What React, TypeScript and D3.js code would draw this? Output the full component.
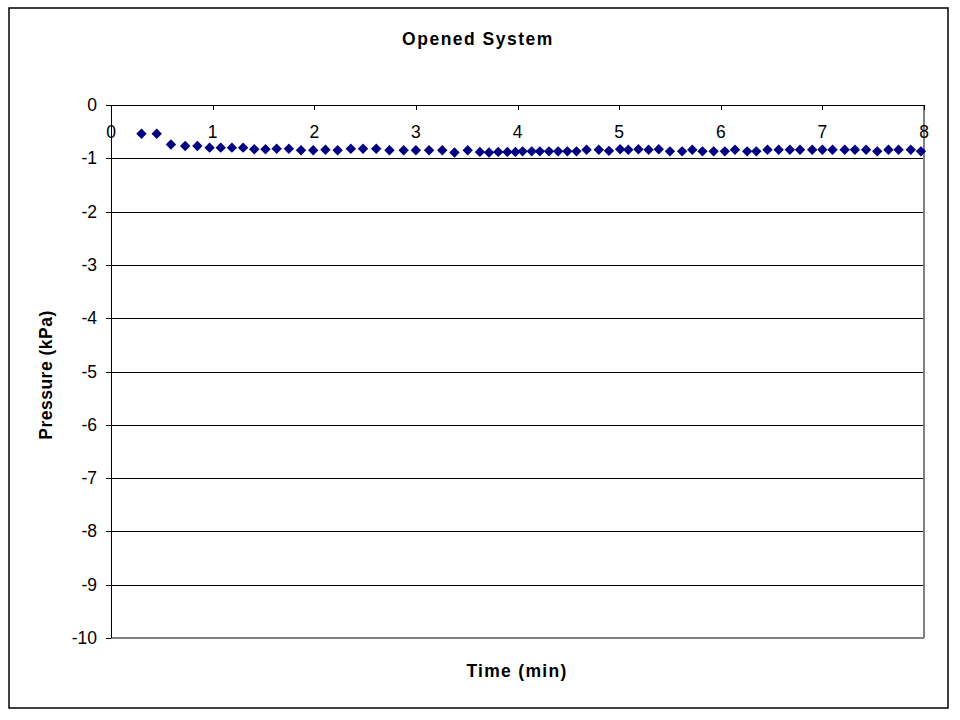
import React from "react";
import * as d3 from "d3";

const times = [
  0.30, 0.45, 0.59, 0.73, 0.85, 0.97, 1.08, 1.19, 1.30, 1.41, 1.52, 1.63, 1.75, 1.87, 1.99,
  2.11, 2.23, 2.36, 2.48, 2.61, 2.74, 2.88, 3.00, 3.13, 3.26, 3.38, 3.51, 3.63, 3.72, 3.81,
  3.90, 3.98, 4.05, 4.14, 4.22, 4.31, 4.40, 4.49, 4.58, 4.68, 4.80, 4.90, 5.01, 5.09, 5.19,
  5.29, 5.39, 5.50, 5.62, 5.72, 5.82, 5.93, 6.04, 6.14, 6.26, 6.35, 6.46, 6.57, 6.68, 6.78,
  6.90, 7.00, 7.10, 7.22, 7.32, 7.43, 7.54, 7.65, 7.75, 7.87, 7.97,
];
const pressures = [
  -0.54, -0.54, -0.74, -0.77, -0.77, -0.80, -0.80, -0.80, -0.80, -0.83, -0.83, -0.82, -0.82, -0.85, -0.85,
  -0.84, -0.85, -0.82, -0.82, -0.82, -0.85, -0.85, -0.85, -0.85, -0.85, -0.89, -0.85, -0.88, -0.89, -0.88,
  -0.88, -0.88, -0.87, -0.87, -0.87, -0.87, -0.87, -0.87, -0.87, -0.84, -0.84, -0.86, -0.83, -0.84, -0.83,
  -0.84, -0.83, -0.87, -0.87, -0.84, -0.87, -0.87, -0.87, -0.84, -0.87, -0.87, -0.84, -0.84, -0.84, -0.84,
  -0.84, -0.84, -0.84, -0.84, -0.84, -0.84, -0.87, -0.84, -0.84, -0.84, -0.87,
];
const xTicks = [0, 1, 2, 3, 4, 5, 6, 7, 8];
const yTicks = [0, -1, -2, -3, -4, -5, -6, -7, -8, -9, -10];

const title = "Opened System";
const xTitle = "Time (min)";
const yTitle = "Pressure (kPa)";

export default function App() {
  const W = 960, H = 720;
  const left = 111, right = 924, top = 105, bottom = 638;
  const x = d3.scaleLinear().domain([0, 8]).range([left, right]);
  const y = d3.scaleLinear().domain([-10, 0]).range([bottom, top]);
  const font = "'Liberation Sans', Arial, sans-serif";
  const r = 5.2;
  const diamond = `M0,${-r}L${r},0L0,${r}L${-r},0Z`;
  const data = times.map((t, i) => ({ t, p: pressures[i] }));

  return (
    <div style={{ position: "fixed", left: 0, top: 0, width: W, height: H, background: "#fff" }}>
      <svg width={W} height={H} style={{ display: "block" }}>
        <rect x={0} y={0} width={W} height={H} fill="#fff" />
        <rect x={9} y={8} width={939} height={700} fill="none" stroke="#000" strokeWidth={1.5} />
        <text x={478} y={45} textAnchor="middle" fontFamily={font} fontWeight="bold" fontSize={17.5} letterSpacing={1.5}>
          {title}
        </text>
        {yTicks.filter((v) => v !== 0 && v !== -10).map((v) => (
          <line key={"g" + v} x1={left} x2={right} y1={Math.round(y(v)) + 0.5} y2={Math.round(y(v)) + 0.5} stroke="#000" strokeWidth={1} />
        ))}
        <line x1={right} x2={right} y1={top} y2={bottom} stroke="#808080" strokeWidth={2} />
        <line x1={left} x2={right} y1={bottom} y2={bottom} stroke="#808080" strokeWidth={2} />
        <line x1={left + 0.5} x2={left + 0.5} y1={top} y2={bottom} stroke="#000" strokeWidth={1} />
        {yTicks.map((v) => (
          <g key={"y" + v}>
            <line x1={left - 5} x2={left} y1={Math.round(y(v)) + 0.5} y2={Math.round(y(v)) + 0.5} stroke="#000" strokeWidth={1} />
            <text x={97} y={y(v) + 6} textAnchor="end" fontFamily={font} fontSize={17.5}>
              {v}
            </text>
          </g>
        ))}
        <line x1={left} x2={right} y1={Math.round(y(0)) + 0.5} y2={Math.round(y(0)) + 0.5} stroke="#000" strokeWidth={1} />
        {xTicks.map((v) => (
          <g key={"x" + v}>
            <line x1={Math.round(x(v)) + 0.5} x2={Math.round(x(v)) + 0.5} y1={y(0)} y2={y(0) + 5} stroke="#000" strokeWidth={1} />
            <text x={x(v)} y={138} textAnchor="middle" fontFamily={font} fontSize={17.5}>
              {v}
            </text>
          </g>
        ))}
        {data.map((d, i) => (
          <path key={i} d={diamond} transform={`translate(${x(d.t)},${y(d.p)})`} fill="#000080" />
        ))}
        <text x={517} y={677} textAnchor="middle" fontFamily={font} fontWeight="bold" fontSize={17.5} letterSpacing={1.3}>
          {xTitle}
        </text>
        <text transform="translate(52,375) rotate(-90)" textAnchor="middle" fontFamily={font} fontWeight="bold" fontSize={17.5} letterSpacing={0.5}>
          {yTitle}
        </text>
      </svg>
    </div>
  );
}
